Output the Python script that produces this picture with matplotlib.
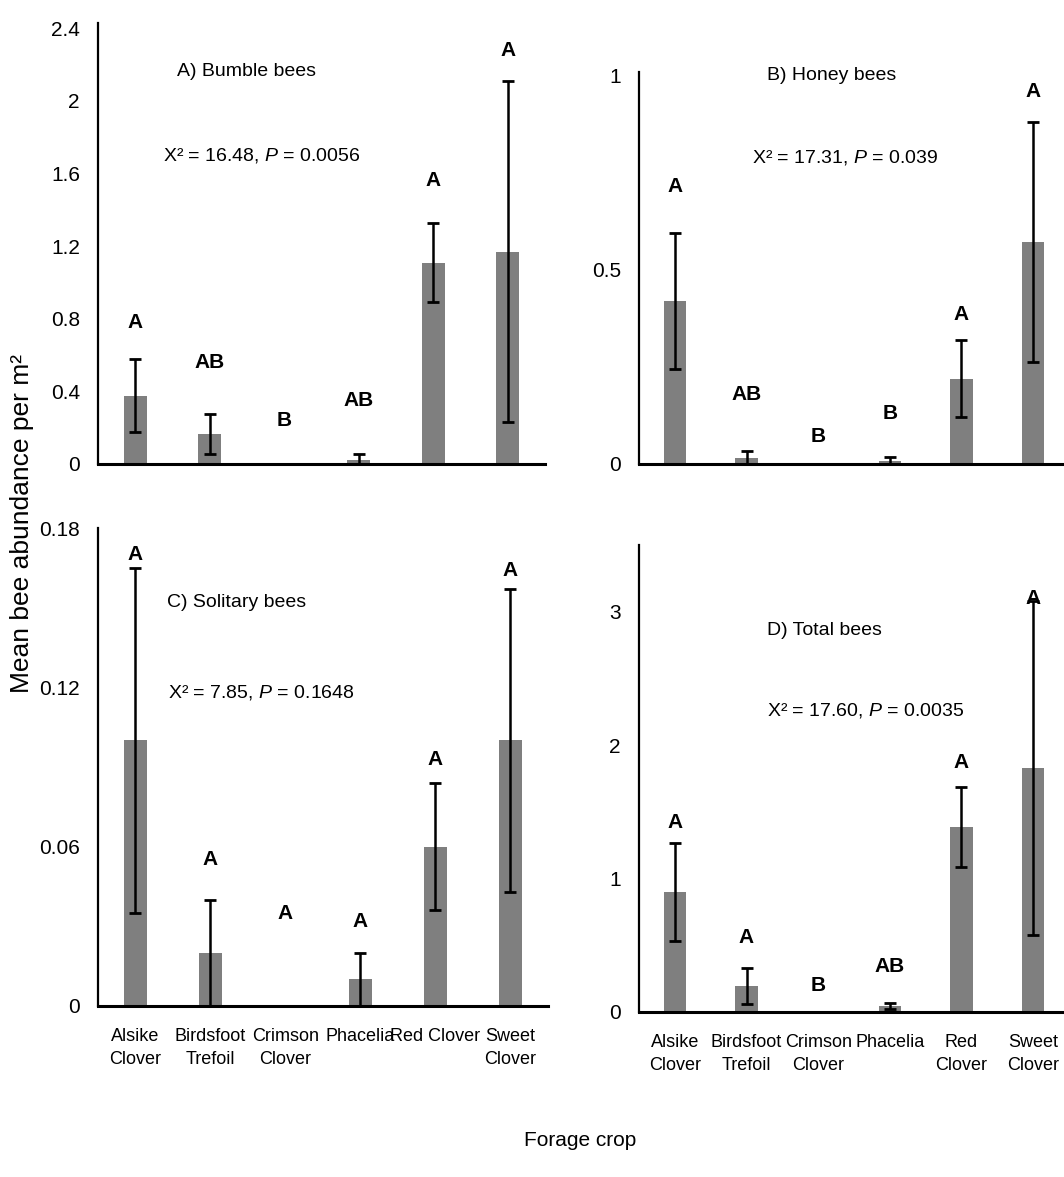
import numpy as np
import matplotlib
matplotlib.use('Agg')
import matplotlib.pyplot as plt
from matplotlib import font_manager

# crop names (two spellings of the tick labels, as in the figure)
crops_c = ['Alsike\nClover', 'Birdsfoot\nTrefoil', 'Crimson\nClover', 'Phacelia', 'Red Clover', 'Sweet\nClover']
crops_d = ['Alsike\nClover', 'Birdsfoot\nTrefoil', 'Crimson\nClover', 'Phacelia', 'Red\nClover', 'Sweet\nClover']

# A) bumble bees
bumble_mean = [0.377, 0.165, 0.0, 0.02, 1.11, 1.17]
bumble_se   = [0.20, 0.11, 0.0, 0.035, 0.215, 0.94]
bumble_let  = ['A', 'AB', 'B', 'AB', 'A', 'A']
bumble_let_y = [0.78, 0.56, 0.24, 0.35, 1.56, 2.28]

# B) honey bees
honey_mean = [0.42, 0.015, 0.0, 0.008, 0.22, 0.572]
honey_se   = [0.175, 0.018, 0.0, 0.01, 0.10, 0.31]
honey_let  = ['A', 'AB', 'B', 'B', 'A', 'A']
honey_let_y = [0.714, 0.18, 0.072, 0.13, 0.386, 0.96]

# C) solitary bees
solitary_mean = [0.10, 0.02, 0.0, 0.01, 0.06, 0.10]
solitary_se   = [0.065, 0.02, 0.0, 0.01, 0.024, 0.057]
solitary_let  = ['A', 'A', 'A', 'A', 'A', 'A']
solitary_let_y = [0.17, 0.055, 0.035, 0.032, 0.093, 0.164]

# D) total bees
total_mean = [0.90, 0.195, 0.0, 0.045, 1.386, 1.83]
total_se   = [0.37, 0.135, 0.0, 0.025, 0.30, 1.25]
total_let  = ['A', 'A', 'B', 'AB', 'A', 'A']
total_let_y = [1.42, 0.56, 0.20, 0.34, 1.87, 3.10]

# the original uses a narrow Arial; use it if present
names = set(f.name for f in font_manager.fontManager.ttflist)
font = 'Liberation Sans Narrow' if 'Liberation Sans Narrow' in names else 'Liberation Sans'

plt.rcParams['font.family'] = [font, 'DejaVu Sans']
plt.rcParams['mathtext.fontset'] = 'custom'
plt.rcParams['mathtext.rm'] = font
plt.rcParams['mathtext.it'] = font + ':italic'
plt.rcParams['mathtext.bf'] = font + ':bold'

bar_color = '#7f7f7f'
x = np.arange(6)

fig = plt.figure(figsize=(10.64, 11.77), dpi=100)

def panel(rect, mean, se, letters, let_y, ymax, yticks, yticklabels,
          title, title_xy, stat, stat_xy, xlabels=None):
    ax = fig.add_axes(rect)
    ax.bar(x, mean, width=0.31, color=bar_color, zorder=1)
    m = np.array(mean)
    e = np.array(se)
    keep = m > 0
    ax.errorbar(x[keep], m[keep], yerr=e[keep], fmt='none', ecolor='black',
                elinewidth=1.8, capsize=4, capthick=2, zorder=2)
    for xi, lab, ly in zip(x, letters, let_y):
        ax.text(xi, ly, lab, ha='center', va='center', fontsize=15,
                fontweight='bold', zorder=3)
    ax.text(title_xy[0], title_xy[1], title, ha='left', va='center', fontsize=14)
    ax.text(stat_xy[0], stat_xy[1], stat, ha='left', va='center', fontsize=14)
    ax.set_xlim(-0.5, 5.5)
    ax.set_ylim(0, ymax)
    ax.set_yticks(yticks)
    ax.set_yticklabels(yticklabels, fontsize=15)
    ax.tick_params(axis='y', length=0, pad=13)
    ax.tick_params(axis='x', length=0, pad=16)
    if xlabels is None:
        ax.set_xticks([])
    else:
        ax.set_xticks(x)
        ax.set_xticklabels(xlabels, fontsize=13, linespacing=1.45)
    for s in ['top', 'right']:
        ax.spines[s].set_visible(False)
    ax.spines['left'].set_linewidth(1.6)
    ax.spines['bottom'].set_linewidth(2.2)
    return ax

panel([0.0921, 0.6058, 0.4201, 0.3747], bumble_mean, bumble_se, bumble_let, bumble_let_y,
      2.43, [0, 0.4, 0.8, 1.2, 1.6, 2.0, 2.4], ['0', '0.4', '0.8', '1.2', '1.6', '2', '2.4'],
      'A) Bumble bees', (0.56, 2.16), 'X² = 16.48, $P$ = 0.0056', (0.37, 1.70))

panel([0.6006, 0.6058, 0.404, 0.3330], honey_mean, honey_se, honey_let, honey_let_y,
      1.01, [0, 0.5, 1], ['0', '0.5', '1'],
      'B) Honey bees', (1.29, 1.0), 'X² = 17.31, $P$ = 0.039', (1.08, 0.79))

panel([0.0921, 0.1453, 0.4229, 0.4061], solitary_mean, solitary_se, solitary_let, solitary_let_y,
      0.18, [0, 0.06, 0.12, 0.18], ['0', '0.06', '0.12', '0.18'],
      'C) Solitary bees', (0.42, 0.152), 'X² = 7.85, $P$ = 0.1648', (0.43, 0.118),
      xlabels=crops_c)

panel([0.6006, 0.1402, 0.404, 0.3968], total_mean, total_se, total_let, total_let_y,
      3.5, [0, 1, 2, 3], ['0', '1', '2', '3'],
      'D) Total bees', (1.29, 2.86), 'X² = 17.60, $P$ = 0.0035', (1.29, 2.26),
      xlabels=crops_d)

fig.text(0.545, 1 - 1140 / 1177, 'Forage crop', ha='center', va='center', fontsize=15)
fig.text(0.021, 1 - 524 / 1177, 'Mean bee abundance per m²', ha='center', va='center',
         rotation=90, fontsize=19, family=['Liberation Sans', 'DejaVu Sans'])

fig.savefig('out.png', dpi=100)
